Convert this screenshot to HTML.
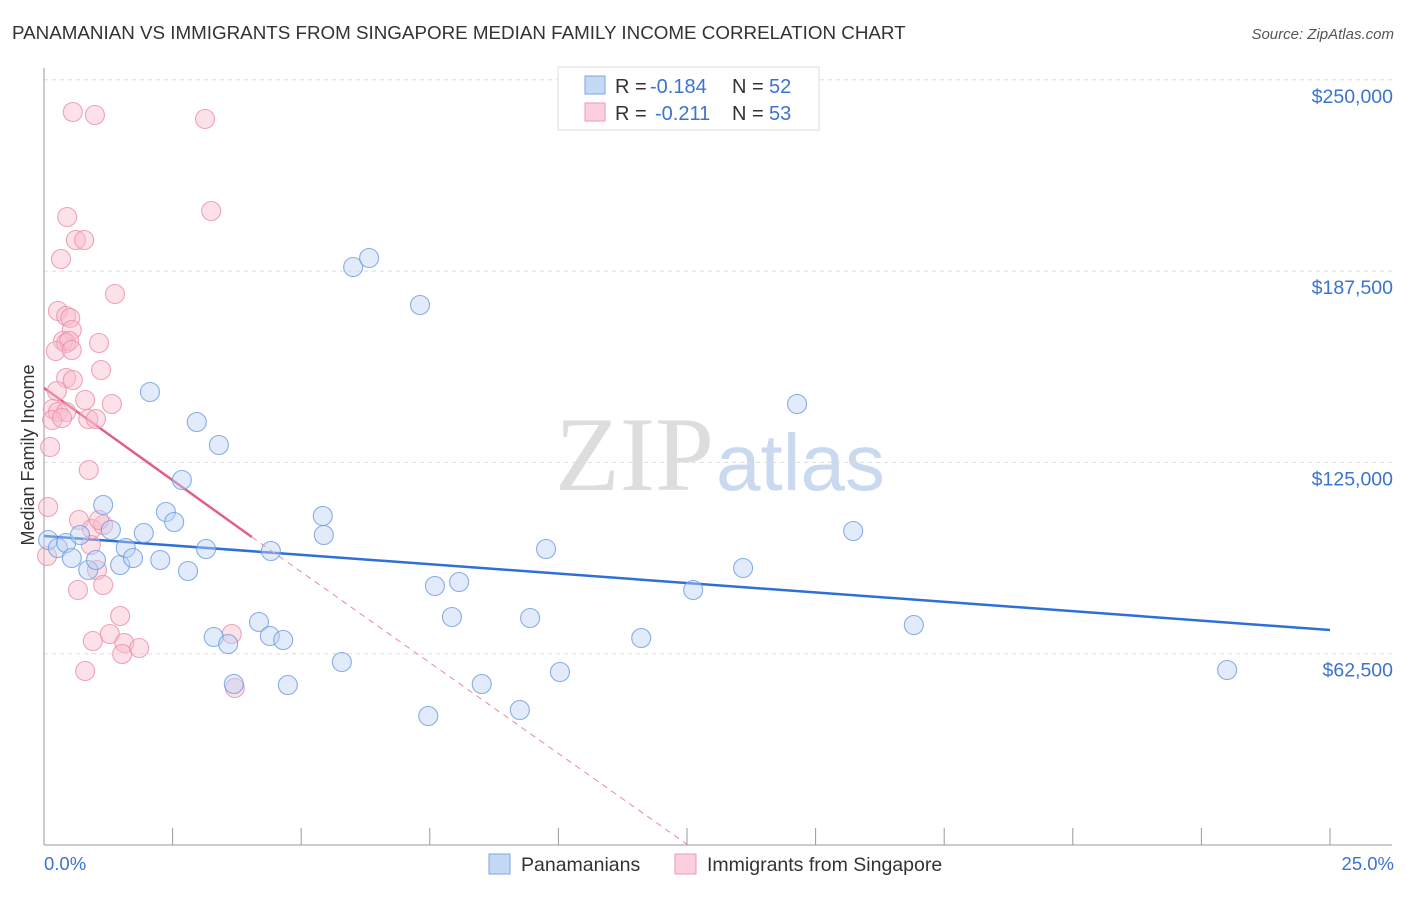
<!DOCTYPE html>
<html><head><meta charset="utf-8"><style>
body{margin:0;background:#fff;font-family:"Liberation Sans",sans-serif;}
</style></head><body>
<svg id="chart" width="1406" height="892" xmlns="http://www.w3.org/2000/svg" font-family="Liberation Sans, sans-serif">
<text x="12" y="39" font-size="18.8" fill="#333">PANAMANIAN VS IMMIGRANTS FROM SINGAPORE MEDIAN FAMILY INCOME CORRELATION CHART</text>
<text x="1394" y="39" font-size="15" fill="#555" text-anchor="end" font-style="italic">Source: ZipAtlas.com</text>
<text x="714" y="490" font-size="106" text-anchor="end" fill="#ddd" font-family="Liberation Serif, serif">ZIP</text>
<text x="716" y="490" font-size="80" fill="#c9d9ef">atlas</text>
<g id="grid"></g><g id="axes"></g><g id="lines"></g><g id="points"></g>
<text transform="translate(34,455) rotate(-90)" font-size="18" fill="#333" text-anchor="middle">Median Family Income</text>
<text x="44" y="870" font-size="18.5" fill="#3b73d1">0.0%</text>
<text x="1394" y="870" font-size="18.5" fill="#3b73d1" text-anchor="end">25.0%</text>
<g>
<rect x="558" y="67" width="261" height="63" fill="#fff" stroke="#ddd"/>
<rect x="585" y="76" width="20" height="18" fill="#c5d9f5" stroke="#7aa5e0"/>
<rect x="585" y="103" width="20" height="18" fill="#fbd0dc" stroke="#ee9ab2"/>
<text x="615" y="93" font-size="20" fill="#333">R =</text>
<text x="650" y="93" font-size="20" fill="#3b73d1">-0.184</text>
<text x="732" y="93" font-size="20" fill="#333">N =</text>
<text x="769" y="93" font-size="20" fill="#3b73d1">52</text>
<text x="615" y="120" font-size="20" fill="#333">R =</text>
<text x="655" y="120" font-size="20" fill="#3b73d1">-0.211</text>
<text x="732" y="120" font-size="20" fill="#333">N =</text>
<text x="769" y="120" font-size="20" fill="#3b73d1">53</text>
</g>
<g>
<rect x="489" y="854" width="21" height="20" fill="#c5d9f5" stroke="#7aa5e0"/>
<text x="521" y="871" font-size="19.5" fill="#333">Panamanians</text>
<rect x="675" y="854" width="21" height="20" fill="#fbd0dc" stroke="#ee9ab2"/>
<text x="707" y="871" font-size="19.5" fill="#333">Immigrants from Singapore</text>
</g>
</svg>
<script>
const yTicks=[62500,125000,187500,250000];
const yTickLabels=["$62,500","$125,000","$187,500","$250,000"];
const xTicks=[0,2.5,5,7.5,10,12.5,15,17.5,20,22.5,25];
const bluePx=[[48,540],[58,548],[66,543],[72,558],[80,535],[88,570],[96,560],[103,505],[111,530],[120,565],[126,548],[133,558],[144,533],[150,392],[160,560],[166,512],[174,522],[182,480],[188,571],[197,422],[206,549],[214,637],[219,445],[228,644],[234,684],[259,622],[270,636],[271,551],[283,640],[288,685],[323,516],[324,535],[342,662],[353,267],[369,258],[420,305],[428,716],[435,586],[452,617],[459,582],[482,684],[520,710],[530,618],[546,549],[560,672],[641,638],[693,590],[743,568],[797,404],[853,531],[914,625],[1227,670]];
const pinkPx=[[73,112],[95,115],[205,119],[67,217],[211,211],[76,240],[84,240],[61,259],[115,294],[58,311],[66,316],[70,318],[72,330],[99,343],[63,341],[66,343],[69,341],[56,351],[72,350],[101,370],[66,378],[73,380],[57,391],[85,400],[112,404],[53,409],[58,412],[66,412],[88,419],[96,419],[50,447],[89,470],[48,507],[79,520],[92,529],[103,525],[91,545],[47,556],[97,570],[103,585],[78,590],[120,616],[110,634],[93,641],[124,643],[122,654],[139,648],[85,671],[232,634],[235,688],[99,520],[52,420],[62,418]];
// data values derived from reading the picture
const blueX=bluePx.map(p=>+((p[0]-44)*25/1286).toFixed(2));
const blueY=bluePx.map(p=>Math.round((845-p[1])*62500/191.3));
const pinkX=pinkPx.map(p=>+((p[0]-44)*25/1286).toFixed(2));
const pinkY=pinkPx.map(p=>Math.round((845-p[1])*62500/191.3));
const blueTrend=[[0,100950],[25,70240]];
const pinkTrend=[[0,149300],[4.04,100620]];
const pinkTrendExt=[[4.04,100620],[12.52,0]];

const X=v=>44+v/25*1286;
const Y=v=>845-v/62500*191.3;
const NS="http://www.w3.org/2000/svg";
function mk(t,a,parent){const e=document.createElementNS(NS,t);for(const k in a)e.setAttribute(k,a[k]);document.getElementById(parent).appendChild(e);return e;}
yTicks.forEach((t,i)=>{
 const l=mk('line',{x1:44,x2:1392,y1:Y(t),y2:Y(t),stroke:'#ddd','stroke-dasharray':'4,4'},'grid');
 
 
 const tx=mk('text',{x:1393,y:Y(t)+23,'font-size':19.5,fill:'#3b73d1','text-anchor':'end'},'grid');
 tx.textContent=yTickLabels[i];
 
 
});
const ax=mk('line',{x1:44,x2:44,y1:68,y2:845,stroke:'#999'},'axes');


const bx=mk('line',{x1:44,x2:1392,y1:845,y2:845,stroke:'#999'},'axes');


xTicks.forEach(t=>{const l=mk('line',{x1:X(t),x2:X(t),y1:828,y2:845,stroke:'#999'},'axes');
 
 });
function pts(xs,ys,fill,stroke,name){xs.forEach((x,i)=>{const c=mk('circle',{cx:X(x),cy:Y(ys[i]),r:9.5,fill:fill,'fill-opacity':0.45,stroke:stroke,'stroke-width':1.1,'stroke-opacity':0.8},'points');
 
 });}
pts(pinkX,pinkY,'#f8bccd','#ea8fa9','singapore-point');
pts(blueX,blueY,'#bcd3f3','#6d9be0','panamanian-point');
function ln(tr,stroke,w,dash,name){const l=mk('line',{x1:X(tr[0][0]),y1:Y(tr[0][1]),x2:X(tr[1][0]),y2:Y(tr[1][1]),stroke:stroke,'stroke-width':w},'lines');if(dash)l.setAttribute('stroke-dasharray',dash);
 
 }
ln(blueTrend,'#2f6fd8',2.5,null,'panamanian-trendline');
ln(pinkTrend,'#e0608a',2.5,null,'singapore-trendline');
ln(pinkTrendExt,'#e88aa6',1,'6,5','singapore-trendline-extension');
</script>
</body></html>
